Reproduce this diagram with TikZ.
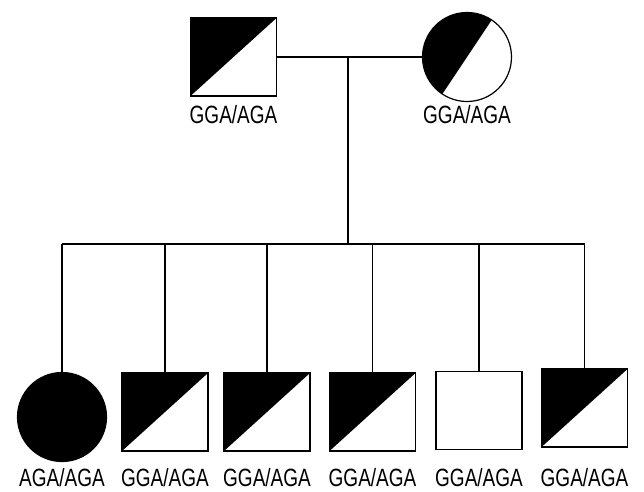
\documentclass[tikz,border=0pt]{standalone}
\usepackage{fontspec}
\setmainfont[FakeStretch=0.76]{Liberation Sans}
\begin{document}
\begin{tikzpicture}[x=1pt,y=-1pt,
    male/.style={draw,line width=1.2pt,minimum width=86pt,minimum height=78pt,inner sep=0pt},
    female/.style={draw,circle,line width=1.2pt,minimum size=89pt,inner sep=0pt},
    half/.style={path picture={\fill (path picture bounding box.north west) -- (path picture bounding box.north east) -- (path picture bounding box.south west) -- cycle;}},
    halfround/.style={path picture={\fill[shift={(path picture bounding box.center)}] (30pt,45pt) -- (-30pt,-45pt) -- (-50pt,-45pt) -- (-50pt,45pt) -- cycle;}},
    lbl/.style={font=\fontsize{25}{27}\selectfont,anchor=base,inner sep=0pt}]
\useasboundingbox (0,0) rectangle (644,491);

\node[male,half] (father) at (233.5,57) {};
\node[female,halfround] (mother) at (467,57) {};
\node[lbl] (fl) at (233.5,123) {GGA/AGA};
\node[lbl] (ml) at (467,123) {GGA/AGA};

\node[female,fill=black] (c1) at (62,417) {};
\node[male,half] (c2) at (165,412) {};
\node[male,half] (c3) at (267,412) {};
\node[male,half] (c4) at (372.5,412) {};
\node[male] (c5) at (479,410.5) {};
\node[male,half] (c6) at (584.5,408) {};

\coordinate (mate) at (348,57);
\coordinate (sibs) at (348,244);
\coordinate (lblrow) at (0,486);

\draw[line width=1.2pt] (father.east) -- (mother.west);
\draw[line width=1.2pt] (mate) -- (sibs);
\draw[line width=1.2pt] (c1 |- sibs) -- (c6 |- sibs);
\foreach \c/\t in {1/AGA,2/GGA,3/GGA,4/GGA,5/GGA,6/GGA} {
    \draw[line width=1.2pt] (c\c |- sibs) -- (c\c.north);
    \node[lbl] (l\c) at (c\c |- lblrow) {\t/AGA};
}
\end{tikzpicture}
\end{document}
